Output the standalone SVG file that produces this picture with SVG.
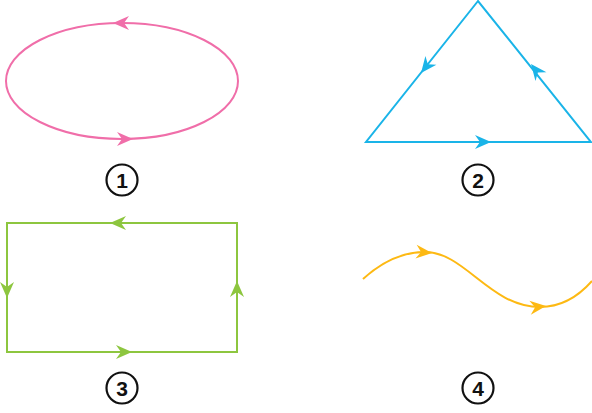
<svg xmlns="http://www.w3.org/2000/svg" width="592" height="413" viewBox="0 0 592 413">
<style>
.l{fill:none;stroke-width:2}
.pk{stroke:#f06ea9}.pkf{fill:#f06ea9}
.bl{stroke:#1ab4e8}.blf{fill:#1ab4e8}
.gr{stroke:#8dc63f}.grf{fill:#8dc63f}
.ye{stroke:#fdb913}.yef{fill:#fdb913}
.num circle{fill:#fff;stroke:#111;stroke-width:2.2}
.num text{font-family:"Liberation Sans",Arial,sans-serif;font-weight:bold;font-size:21px;fill:#111;text-anchor:middle}
</style>
<defs>
<path id="ah" d="M0,0 L-16,-7 L-11,0 L-16,7 Z"/>
</defs>
<g id="connectors">
<g id="ellipse1">
<ellipse class="l pk" cx="122" cy="81" rx="116" ry="58"/>
<use href="#ah" class="pkf" transform="translate(113,23) rotate(180)"/>
<use href="#ah" class="pkf" transform="translate(133,139)"/>
</g>
<g id="triangle2">
<polygon class="l bl" points="478,1 366,142 591,142"/>
<use href="#ah" class="blf" transform="translate(421,73) rotate(128.3)"/>
<use href="#ah" class="blf" transform="translate(531,64) rotate(-128.5)"/>
<use href="#ah" class="blf" transform="translate(491,142)"/>
</g>
<g id="rect3">
<rect class="l gr" x="7" y="223" width="230" height="129"/>
<use href="#ah" class="grf" transform="translate(110,223) rotate(180)"/>
<use href="#ah" class="grf" transform="translate(7,298) rotate(90)"/>
<use href="#ah" class="grf" transform="translate(237,281) rotate(-90)"/>
<use href="#ah" class="grf" transform="translate(132,352)"/>
</g>
<g id="wave4">
<path class="l ye" d="M363,279 C385,259 405,252 425,252 C465,252 490,307 540,307 C560,307 578,297 592,281"/>
<use href="#ah" class="yef" transform="translate(432,253) rotate(5)"/>
<use href="#ah" class="yef" transform="translate(546,306) rotate(-6)"/>
</g>
</g>
<g id="n1" class="num"><circle cx="122" cy="180" r="15.5"/><text x="122" y="187.5">1</text></g>
<g id="n2" class="num"><circle cx="478" cy="180" r="15.5"/><text x="478" y="187.5">2</text></g>
<g id="n3" class="num"><circle cx="122" cy="388" r="15.5"/><text x="122" y="395.5">3</text></g>
<g id="n4" class="num"><circle cx="478" cy="388" r="15.5"/><text x="478" y="395.5">4</text></g>
</svg>
